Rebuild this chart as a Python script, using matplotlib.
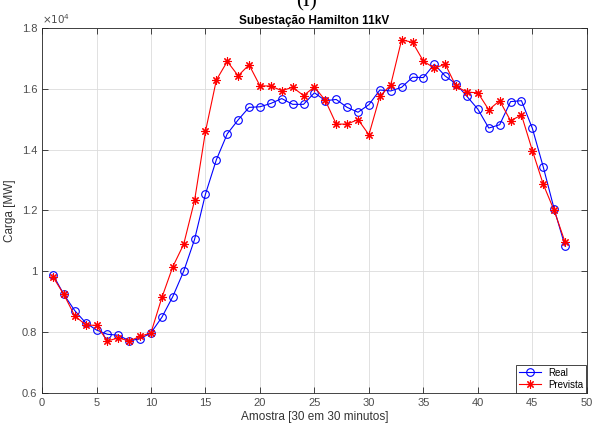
import matplotlib.pyplot as plt
from matplotlib.ticker import FuncFormatter

plt.rcParams['font.family'] = ['Liberation Sans', 'DejaVu Sans']

# samples (30 min steps) and load in MW
amostra = list(range(1, 49))
real = [9890, 9240, 8710, 8310, 8070, 7930, 7900, 7720, 7780, 7980,
        8490, 9170, 10000, 11050, 12540, 13670, 14520, 14980, 15390, 15410,
        15520, 15680, 15490, 15490, 15870, 15610, 15650, 15390, 15230, 15480,
        15960, 15930, 16050, 16380, 16370, 16810, 16420, 16160, 15750, 15330,
        14710, 14820, 15580, 15610, 14700, 13430, 12050, 10830]
prevista = [9820, 9240, 8540, 8240, 8220, 7710, 7810, 7710, 7860, 7980,
            9140, 10150, 10890, 12330, 14600, 16290, 16900, 16430, 16790, 16100,
            16090, 15940, 16050, 15780, 16060, 15620, 14840, 14840, 14990, 14490,
            15750, 16130, 17610, 17530, 16910, 16680, 16810, 16080, 15890, 15870,
            15310, 15610, 14950, 15140, 13970, 12860, 12000, 10960]

fig = plt.figure(figsize=(5.97, 4.28), dpi=100)
ax = fig.add_axes([0.0704, 0.0818, 0.9126, 0.8528])

ax.plot(amostra, real, color='blue', lw=0.8, marker='o', ms=5.5,
        mfc='none', mew=0.8, label='Real')
ax.plot(amostra, prevista, color='red', lw=0.8, marker=(8, 2, 0), ms=6,
        mew=0.8, label='Prevista')

ax.set_xlim(0, 50)
ax.set_ylim(6000, 18000)
ax.set_xticks(range(0, 51, 5))
ax.set_yticks(range(6000, 18001, 2000))
ax.yaxis.set_major_formatter(FuncFormatter(lambda v, p: '%g' % (v / 1e4)))
ax.grid(True, color='#dcdcdc', lw=0.6)
ax.set_axisbelow(True)
ax.tick_params(direction='in', length=4, width=0.6, colors='#262626',
               labelcolor='#4d4d4d', labelsize=8, top=True, right=True)
for s in ax.spines.values():
    s.set_color('#262626')
    s.set_linewidth(0.6)

ax.set_xlabel('Amostra [30 em 30 minutos]', fontsize=8.5, color='#333333', labelpad=2)
ax.set_ylabel('Carga [MW]', fontsize=8.5, color='#333333', labelpad=4)
ax.set_title('Subestação Hamilton 11kV', fontsize=8.5, fontweight='bold', pad=3)
ax.text(0.0, 1.005, r'$\times10^{4}$', transform=ax.transAxes, fontsize=7.5,
        color='#4d4d4d', va='bottom', ha='left')

fig.text(0.514, 0.995, '(I)', fontsize=15, family='Liberation Serif',
         ha='center', va='center')

leg = ax.legend(loc='lower right', fontsize=7, fancybox=False, framealpha=1,
                edgecolor='#262626', borderaxespad=0.05, handlelength=2.2,
                borderpad=0.3, labelspacing=0.2)
leg.get_frame().set_linewidth(0.6)

plt.savefig('out.png', dpi=100)
